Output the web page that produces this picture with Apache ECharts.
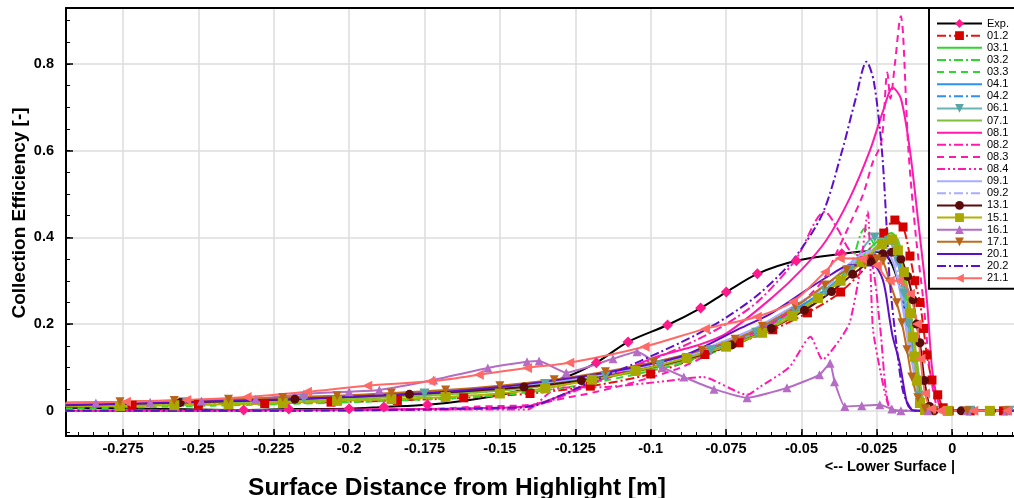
<!DOCTYPE html>
<html>
<head>
<meta charset="utf-8">
<title>Collection Efficiency</title>
<script src="https://cdn.jsdelivr.net/npm/echarts@6.0.0/dist/echarts.min.js"></script>
<style>
  html, body { margin: 0; padding: 0; background: #fff; }
  #chart { width: 1014px; height: 498px; }
</style>
</head>
<body>
<div id="chart"></div>
<script>
// ---- axis ticks ----
const xTicks = [-0.275, -0.25, -0.225, -0.2, -0.175, -0.15, -0.125, -0.1, -0.075, -0.05, -0.025, 0];
const yTicks = [0, 0.2, 0.4, 0.6, 0.8];
const X_MIN = -0.2939, X_MAX = 0.0205;
const Y_MIN = -0.058, Y_MAX = 0.929;

// ---- series names (legend order) ----
const names = ['Exp.', '01.2', '03.1', '03.2', '03.3', '04.1', '04.2', '06.1', '07.1', '08.1', '08.2',
  '08.3', '08.4', '09.1', '09.2', '13.1', '15.1', '16.1', '17.1', '20.1', '20.2', '21.1'];

// ---- experiment ----
const expX = [-0.294, -0.265, -0.235, -0.22, -0.2, -0.1885, -0.174, -0.16, -0.145, -0.128, -0.118, -0.1075,
  -0.0944, -0.0834, -0.0749, -0.0646, -0.0517, -0.0366, -0.028, -0.022, -0.018, -0.015, -0.0125, -0.01, -0.008, -0.005, 0.021];
const expY = [0.007, 0.005, 0.002, 0.004, 0.005, 0.009, 0.014, 0.025, 0.044, 0.078, 0.111, 0.159,
  0.198, 0.237, 0.274, 0.316, 0.346, 0.362, 0.368, 0.36, 0.3, 0.2, 0.1, 0.03, 0.003, 0, 0];
const expMarked = [0, 0, 1, 1, 1, 1, 1, 0, 0, 0, 1, 1, 1, 1, 1, 1, 1, 1, 0, 0, 0, 0, 0, 0, 0, 0, 0];

// ---- shared x stations for the plain-line solutions ----
const xGrid = [-0.294, -0.27, -0.245, -0.22, -0.195, -0.17, -0.15, -0.13, -0.115, -0.1, -0.088, -0.076,
  -0.065, -0.055, -0.047, -0.04, -0.034, -0.029, -0.025, -0.022, -0.02, -0.018, -0.016, -0.0145,
  -0.013, -0.012, -0.011, -0.01, -0.009, -0.007, -0.004, 0.021];
const y03_1 = [0.014, 0.017, 0.021, 0.025, 0.031, 0.039, 0.049, 0.064, 0.079, 0.099, 0.12, 0.15, 0.181, 0.222, 0.256, 0.29, 0.328, 0.362, 0.39, 0.405, 0.41, 0.385, 0.31, 0.24, 0.17, 0.12, 0.07, 0.035, 0.012, 0.002, 0, 0];
const y03_2 = [0.012, 0.015, 0.019, 0.023, 0.029, 0.037, 0.047, 0.062, 0.077, 0.097, 0.118, 0.148, 0.178, 0.218, 0.25, 0.285, 0.33, 0.42, 0.38, 0.395, 0.4, 0.37, 0.29, 0.22, 0.155, 0.105, 0.06, 0.028, 0.008, 0.001, 0, 0];
const y03_3 = [0.005, 0.008, 0.012, 0.016, 0.021, 0.028, 0.036, 0.052, 0.07, 0.092, 0.113, 0.143, 0.173, 0.213, 0.245, 0.28, 0.318, 0.35, 0.375, 0.392, 0.398, 0.375, 0.3, 0.23, 0.16, 0.11, 0.063, 0.03, 0.009, 0.001, 0, 0];
const y04_1 = [0.016, 0.019, 0.023, 0.027, 0.033, 0.041, 0.051, 0.066, 0.081, 0.101, 0.122, 0.152, 0.183, 0.223, 0.255, 0.288, 0.323, 0.352, 0.375, 0.39, 0.392, 0.36, 0.275, 0.2, 0.14, 0.09, 0.045, 0.018, 0.005, 0.001, 0, 0];
const y04_2 = [0.015, 0.018, 0.022, 0.026, 0.032, 0.04, 0.05, 0.065, 0.08, 0.1, 0.121, 0.151, 0.182, 0.222, 0.254, 0.287, 0.322, 0.35, 0.37, 0.385, 0.385, 0.345, 0.255, 0.185, 0.13, 0.085, 0.042, 0.017, 0.005, 0.001, 0, 0];
const y07_1 = [0.012, 0.015, 0.019, 0.023, 0.029, 0.037, 0.047, 0.062, 0.077, 0.097, 0.117, 0.147, 0.177, 0.217, 0.25, 0.283, 0.32, 0.353, 0.38, 0.398, 0.405, 0.395, 0.335, 0.265, 0.19, 0.135, 0.08, 0.04, 0.014, 0.002, 0, 0];
const y09_1 = [0.016, 0.019, 0.023, 0.028, 0.034, 0.043, 0.054, 0.07, 0.086, 0.107, 0.128, 0.16, 0.192, 0.232, 0.265, 0.3, 0.34, 0.365, 0.37, 0.368, 0.35, 0.3, 0.22, 0.15, 0.1, 0.06, 0.028, 0.01, 0.003, 0, 0, 0];
const y09_2 = [0.016, 0.019, 0.023, 0.028, 0.034, 0.043, 0.054, 0.07, 0.086, 0.106, 0.127, 0.158, 0.19, 0.23, 0.262, 0.296, 0.335, 0.36, 0.372, 0.375, 0.365, 0.32, 0.24, 0.17, 0.115, 0.07, 0.033, 0.012, 0.003, 0, 0, 0];

// ---- solutions with their own stations: [x, y] ----
const s01_2 = [[-0.294, 0.012], [-0.272, 0.013], [-0.25, 0.015], [-0.228, 0.017], [-0.206, 0.02], [-0.184, 0.024],
  [-0.162, 0.03], [-0.14, 0.04], [-0.12, 0.057], [-0.1, 0.085], [-0.082, 0.13], [-0.0707, 0.157], [-0.0595, 0.187],
  [-0.048, 0.226], [-0.037, 0.274], [-0.0265, 0.35], [-0.0227, 0.41], [-0.019, 0.44], [-0.0163, 0.424], [-0.014, 0.357],
  [-0.0124, 0.3], [-0.0107, 0.25], [-0.0095, 0.19], [-0.0084, 0.129], [-0.0067, 0.071], [-0.0048, 0.037],
  [-0.003, 0.007], [-0.001, 0], [0.006, 0], [0.017, 0]];
const s06_1 = [[-0.294, 0.015], [-0.255, 0.02], [-0.215, 0.028], [-0.175, 0.04], [-0.135, 0.062], [-0.115, 0.08],
  [-0.097, 0.105], [-0.08, 0.14], [-0.065, 0.18], [-0.052, 0.228], [-0.042, 0.275], [-0.034, 0.325], [-0.0257, 0.4],
  [-0.021, 0.392], [-0.018, 0.345], [-0.016, 0.27], [-0.0145, 0.2], [-0.013, 0.12], [-0.011, 0.035], [-0.009, 0.004],
  [-0.006, 0], [0.006, 0], [0.019, 0]];
const s08_1 = [[-0.294, 0], [-0.25, 0], [-0.2, 0.003], [-0.16, 0.006], [-0.14, 0.012], [-0.1235, 0.053], [-0.11, 0.09],
  [-0.098, 0.125], [-0.085, 0.15], [-0.075, 0.178], [-0.0594, 0.263], [-0.05, 0.325], [-0.0417, 0.394], [-0.034, 0.49],
  [-0.0273, 0.6], [-0.023, 0.69], [-0.0197, 0.745], [-0.017, 0.72], [-0.014, 0.6], [-0.011, 0.42], [-0.0084, 0.256],
  [-0.0067, 0.1], [-0.005, 0.03], [-0.003, 0.003], [0.021, 0]];
const s08_2 = [[-0.294, 0], [-0.25, 0], [-0.2, 0.001], [-0.16, 0.004], [-0.14, 0.01], [-0.1235, 0.05], [-0.11, 0.088],
  [-0.097, 0.125], [-0.085, 0.163], [-0.075, 0.2], [-0.064, 0.255], [-0.052, 0.348], [-0.0422, 0.459], [-0.038, 0.42],
  [-0.034, 0.37], [-0.03, 0.355], [-0.027, 0.35], [-0.024, 0.2], [-0.0215, 0.025], [-0.019, 0], [0.021, 0]];
const s08_3 = [[-0.294, 0], [-0.25, 0], [-0.2, 0.002], [-0.17, 0.005], [-0.157, 0.01], [-0.14, 0.014], [-0.128, 0.03],
  [-0.118, 0.044], [-0.106, 0.065], [-0.09, 0.1], [-0.075, 0.15], [-0.06, 0.2], [-0.05, 0.25], [-0.043, 0.3],
  [-0.038, 0.37], [-0.034, 0.43], [-0.0295, 0.5], [-0.0265, 0.57], [-0.0235, 0.62], [-0.0215, 0.78], [-0.0205, 0.72],
  [-0.019, 0.8], [-0.017, 0.91], [-0.0163, 0.87], [-0.0145, 0.6], [-0.012, 0.4], [-0.0095, 0.25], [-0.0075, 0.1],
  [-0.0055, 0.02], [-0.004, 0], [0.021, 0]];
const s08_4 = [[-0.294, 0], [-0.25, 0.001], [-0.2, 0.002], [-0.17, 0.003], [-0.141, 0.003], [-0.131, 0.053],
  [-0.1146, 0.055], [-0.097, 0.067], [-0.0827, 0.078], [-0.068, 0.037], [-0.0638, 0.055], [-0.054, 0.101],
  [-0.047, 0.171], [-0.043, 0.118], [-0.0373, 0.164], [-0.034, 0.203], [-0.0305, 0.325], [-0.028, 0.46],
  [-0.0263, 0.19], [-0.0235, 0.08], [-0.0215, 0.02], [-0.02, 0], [0.021, 0]];
const s13_1 = [[-0.294, 0.014], [-0.256, 0.019], [-0.218, 0.027], [-0.18, 0.038], [-0.142, 0.055], [-0.123, 0.07],
  [-0.105, 0.092], [-0.088, 0.12], [-0.073, 0.152], [-0.06, 0.19], [-0.049, 0.232], [-0.04, 0.275], [-0.033, 0.315],
  [-0.027, 0.345], [-0.023, 0.362], [-0.02, 0.366], [-0.017, 0.35], [-0.0148, 0.31], [-0.013, 0.256], [-0.0118, 0.2],
  [-0.0107, 0.157], [-0.0092, 0.07], [-0.0075, 0.01], [-0.006, 0], [0.003, 0], [0.013, 0]];
const s15_1 = [[-0.294, 0.01], [-0.276, 0.011], [-0.258, 0.013], [-0.24, 0.015], [-0.222, 0.018], [-0.204, 0.023],
  [-0.186, 0.027], [-0.168, 0.032], [-0.15, 0.04], [-0.135, 0.052], [-0.1195, 0.072], [-0.105, 0.092], [-0.088, 0.122],
  [-0.075, 0.148], [-0.063, 0.18], [-0.053, 0.219], [-0.0445, 0.26], [-0.037, 0.3], [-0.03, 0.343], [-0.0233, 0.385],
  [-0.02, 0.395], [-0.018, 0.37], [-0.016, 0.32], [-0.014, 0.225], [-0.013, 0.17], [-0.0124, 0.125], [-0.0117, 0.07],
  [-0.0107, 0.018], [-0.009, 0.002], [-0.0015, 0], [0.0125, 0]];
const s16_1 = [[-0.294, 0.017], [-0.284, 0.018], [-0.266, 0.02], [-0.249, 0.023], [-0.231, 0.027], [-0.215, 0.039],
  [-0.2, 0.044], [-0.19, 0.048], [-0.172, 0.071], [-0.154, 0.099], [-0.141, 0.113], [-0.137, 0.115], [-0.128, 0.088],
  [-0.1125, 0.12], [-0.1045, 0.136], [-0.096, 0.1], [-0.089, 0.078], [-0.079, 0.05], [-0.068, 0.03], [-0.0548, 0.053],
  [-0.044, 0.083], [-0.0405, 0.11], [-0.039, 0.067], [-0.0356, 0.01], [-0.03, 0.012], [-0.024, 0.014], [-0.02, 0.004],
  [-0.017, 0], [-0.008, 0], [0.005, 0], [0.018, 0]];
const s17_1 = [[-0.294, 0.019], [-0.276, 0.021], [-0.258, 0.024], [-0.24, 0.027], [-0.222, 0.031], [-0.204, 0.035],
  [-0.186, 0.041], [-0.168, 0.048], [-0.15, 0.058], [-0.132, 0.072], [-0.115, 0.09], [-0.099, 0.112], [-0.083, 0.14],
  [-0.072, 0.165], [-0.063, 0.195], [-0.052, 0.24], [-0.0422, 0.29], [-0.035, 0.325], [-0.029, 0.345], [-0.025, 0.35],
  [-0.023, 0.345], [-0.0207, 0.297], [-0.0184, 0.249], [-0.0167, 0.203], [-0.015, 0.141], [-0.0134, 0.078],
  [-0.0114, 0.03], [-0.009, 0.005], [-0.006, 0], [0.005, 0], [0.018, 0]];
const s20_1 = [[-0.294, 0.013], [-0.27, 0.017], [-0.245, 0.022], [-0.22, 0.027], [-0.195, 0.034], [-0.17, 0.043],
  [-0.15, 0.055], [-0.13, 0.072], [-0.115, 0.088], [-0.1, 0.108], [-0.088, 0.13], [-0.0704, 0.19], [-0.06, 0.225],
  [-0.048, 0.28], [-0.04, 0.315], [-0.034, 0.336], [-0.0263, 0.335], [-0.023, 0.302], [-0.0207, 0.21],
  [-0.0197, 0.17], [-0.0174, 0.11], [-0.015, 0.018], [-0.0135, 0.003], [-0.011, 0], [0.021, 0]];
const s20_2 = [[-0.294, 0], [-0.25, 0], [-0.2, 0.001], [-0.17, 0.004], [-0.15, 0.007], [-0.14, 0.01], [-0.13, 0.035],
  [-0.1235, 0.055], [-0.11, 0.095], [-0.097, 0.135], [-0.085, 0.175], [-0.075, 0.215], [-0.064, 0.27], [-0.0528, 0.348],
  [-0.043, 0.455], [-0.0365, 0.6], [-0.032, 0.72], [-0.0284, 0.805], [-0.026, 0.76], [-0.0233, 0.6], [-0.0217, 0.42],
  [-0.0207, 0.3], [-0.0184, 0.148], [-0.0164, 0.048], [-0.014, 0.008], [-0.012, 0], [0.021, 0]];
const s21_1 = [[-0.294, 0.018], [-0.274, 0.021], [-0.254, 0.025], [-0.234, 0.032], [-0.214, 0.044], [-0.194, 0.058],
  [-0.173, 0.068], [-0.157, 0.083], [-0.141, 0.099], [-0.127, 0.111], [-0.102, 0.148], [-0.082, 0.189],
  [-0.0648, 0.217], [-0.0528, 0.252], [-0.0422, 0.32], [-0.0373, 0.352], [-0.03, 0.35], [-0.025, 0.335],
  [-0.0207, 0.3], [-0.0177, 0.3], [-0.014, 0.27], [-0.0117, 0.2], [-0.0105, 0.12], [-0.009, 0.04], [-0.007, 0.005],
  [-0.004, 0], [0.007, 0], [0.0182, 0]];

// ---- styles ----
const FONT = "'Liberation Sans', Arial, Helvetica, sans-serif";
const DASH = [7, 5];
const DASHDOT = [9, 3, 2, 3];
const DASHDOTDOT = [8, 3, 2, 3, 2, 3];
const PINK = '#ff1aae', GREEN = '#2ed62e', BLUE = '#2f8ff5', LAV = '#a9acff', PURPLE = '#5e0fc4';

const styles = {
  'Exp.': { color: '#000000', mark: '#ff1a8c', symbol: 'diamond', size: 11 },
  '01.2': { color: '#e41414', mark: '#d40000', dash: DASHDOT, symbol: 'rect', size: 9 },
  '03.1': { color: GREEN },
  '03.2': { color: GREEN, dash: DASHDOT },
  '03.3': { color: GREEN, dash: DASH },
  '04.1': { color: BLUE },
  '04.2': { color: BLUE, dash: DASHDOT },
  '06.1': { color: '#6ab4b4', mark: '#5aa6a6', symbol: 'triangle', rot: 180, size: 10 },
  '07.1': { color: '#7fbf3b' },
  '08.1': { color: PINK },
  '08.2': { color: PINK, dash: DASHDOT },
  '08.3': { color: PINK, dash: DASH },
  '08.4': { color: PINK, dash: DASHDOTDOT, smooth: 0.2 },
  '09.1': { color: LAV },
  '09.2': { color: LAV, dash: DASHDOT },
  '13.1': { color: '#5a0b0b', symbol: 'circle', size: 9 },
  '15.1': { color: '#b1b300', mark: '#a8a800', symbol: 'rect', size: 10 },
  '16.1': { color: '#b56cc4', symbol: 'triangle', size: 9, smooth: 0.15 },
  '17.1': { color: '#c06c1f', mark: '#b8651a', symbol: 'triangle', rot: 180, size: 9 },
  '20.1': { color: PURPLE },
  '20.2': { color: PURPLE, dash: DASHDOT },
  '21.1': { color: '#ff6a66', symbol: 'triangle', rot: 90, size: 10 }
};

const zip = ys => xGrid.map((x, i) => [x, ys[i]]);
const seriesData = {
  'Exp.': expX.map((x, i) => ({ value: [x, expY[i]], symbol: expMarked[i] ? 'diamond' : 'none' })),
  '01.2': s01_2, '03.1': zip(y03_1), '03.2': zip(y03_2), '03.3': zip(y03_3),
  '04.1': zip(y04_1), '04.2': zip(y04_2), '06.1': s06_1, '07.1': zip(y07_1),
  '08.1': s08_1, '08.2': s08_2, '08.3': s08_3, '08.4': s08_4,
  '09.1': zip(y09_1), '09.2': zip(y09_2), '13.1': s13_1, '15.1': s15_1, '16.1': s16_1,
  '17.1': s17_1, '20.1': s20_1, '20.2': s20_2, '21.1': s21_1
};

const series = names.map(name => {
  const st = styles[name];
  return {
    name: name,
    type: 'line',
    xAxisIndex: 0,
    yAxisIndex: 0,
    data: seriesData[name],
    smooth: st.smooth != null ? st.smooth : 0.3,
    symbol: st.symbol || 'none',
    symbolSize: st.size || 8,
    symbolRotate: st.rot || 0,
    showSymbol: !!st.symbol,
    lineStyle: { color: st.color, width: 2, type: st.dash || 'solid' },
    itemStyle: { color: st.mark || st.color },
    emphasis: { disabled: true },
    silent: true
  };
});

const legendData = names.map(name => styles[name].symbol
  ? { name: name }
  : { name: name, itemStyle: { opacity: 0 } });

// minor tick positions
const xMinor = [];
for (let k = -58; k <= 4; k++) xMinor.push(k * 0.005);
const yMinor = [];
for (let k = -1; k <= 18; k++) yMinor.push(k * 0.05);

const chart = echarts.init(document.getElementById('chart'), null, { renderer: 'canvas' });
chart.setOption({
  animation: false,
  backgroundColor: '#ffffff',
  grid: { left: 66, right: 0, top: 8, bottom: 62 },
  xAxis: [
    {
      type: 'value', min: X_MIN, max: X_MAX, position: 'bottom',
      axisLine: { onZero: false, lineStyle: { color: '#000', width: 2 } },
      axisTick: { inside: true, length: 7, customValues: xTicks, lineStyle: { color: '#000', width: 1.5 } },
      axisLabel: {
        customValues: xTicks, formatter: v => String(v), margin: 5,
        color: '#000', fontWeight: 'bold', fontSize: 14.5, fontFamily: FONT
      },
      splitLine: { show: true, lineStyle: { color: '#dcdcdc', width: 1.5 } }
    },
    {
      type: 'value', min: X_MIN, max: X_MAX, position: 'bottom',
      axisLine: { show: false, onZero: false },
      axisTick: { inside: true, length: 4, customValues: xMinor, lineStyle: { color: '#000', width: 1 } },
      axisLabel: { show: false },
      splitLine: { show: false }
    },
    {
      type: 'value', min: X_MIN, max: X_MAX, position: 'top',
      axisLine: { onZero: false, lineStyle: { color: '#000', width: 2 } },
      axisTick: { show: false }, axisLabel: { show: false }, splitLine: { show: false }
    }
  ],
  yAxis: [
    {
      type: 'value', min: Y_MIN, max: Y_MAX, position: 'left',
      axisLine: { show: true, onZero: false, lineStyle: { color: '#000', width: 2 } },
      axisTick: { show: true, inside: true, length: 7, customValues: yTicks, lineStyle: { color: '#000', width: 1.5 } },
      axisLabel: {
        customValues: yTicks, formatter: v => (v === 0 ? '0' : v.toFixed(1)), margin: 12,
        color: '#000', fontWeight: 'bold', fontSize: 14.5, fontFamily: FONT
      },
      splitLine: { show: true, lineStyle: { color: '#dcdcdc', width: 1.5 } }
    },
    {
      type: 'value', min: Y_MIN, max: Y_MAX, position: 'left',
      axisLine: { show: false, onZero: false },
      axisTick: { show: true, inside: true, length: 4, customValues: yMinor, lineStyle: { color: '#000', width: 1 } },
      axisLabel: { show: false },
      splitLine: { show: false }
    }
  ],
  legend: {
    orient: 'vertical', left: 929, top: 8,
    itemWidth: 45, itemHeight: 11, itemGap: 1.13,
    padding: [10, 30, 5, 7],
    backgroundColor: '#fff', borderColor: '#000', borderWidth: 2, borderRadius: 0,
    selectedMode: false,
    textStyle: { fontSize: 11, color: '#000', fontFamily: FONT },
    data: legendData
  },
  graphic: [
    {
      type: 'text', x: 457, y: 488,
      style: { text: 'Surface Distance from Highlight [m]', fill: '#000', fontSize: 24.5, fontWeight: 'bold',
        fontFamily: FONT, align: 'center', verticalAlign: 'middle' }
    },
    {
      type: 'text', x: 955, y: 467,
      style: { text: '<-- Lower Surface |', fill: '#000', fontSize: 14.5, fontWeight: 'bold',
        fontFamily: FONT, align: 'right', verticalAlign: 'middle' }
    },
    {
      type: 'text', x: 20, y: 213, rotation: Math.PI / 2,
      style: { text: 'Collection Efficiency [-]', fill: '#000', fontSize: 19, fontWeight: 'bold',
        fontFamily: FONT, align: 'center', verticalAlign: 'middle' }
    }
  ],
  series: series
});
</script>
</body>
</html>
